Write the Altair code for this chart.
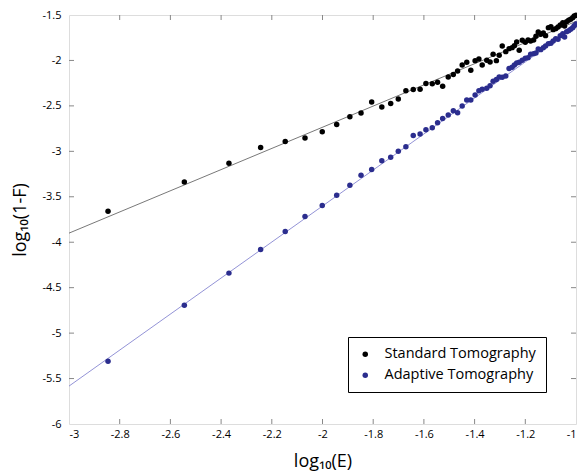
import altair as alt
import pandas as pd

# x positions (log10 E), shared by both series
log_e = [-2.846, -2.545, -2.369, -2.244, -2.147, -2.069, -2.001, -1.944, -1.892, -1.848,
         -1.806, -1.766, -1.731, -1.701, -1.671, -1.642, -1.615, -1.592, -1.567, -1.546,
         -1.526, -1.504, -1.484, -1.467, -1.449, -1.431, -1.415, -1.398, -1.383, -1.370,
         -1.352, -1.339, -1.327, -1.314, -1.303, -1.291, -1.277, -1.264, -1.252, -1.243,
         -1.234, -1.224, -1.212, -1.200, -1.189, -1.179, -1.167, -1.158, -1.149, -1.139,
         -1.129, -1.120, -1.109, -1.099, -1.090, -1.080, -1.071, -1.062, -1.052, -1.045,
         -1.037, -1.029, -1.021, -1.013, -1.007, -1.000]

standard = [-3.659, -3.337, -3.132, -2.957, -2.891, -2.854, -2.784, -2.704, -2.620, -2.579,
            -2.458, -2.513, -2.473, -2.425, -2.334, -2.320, -2.316, -2.254, -2.257, -2.239,
            -2.283, -2.181, -2.155, -2.115, -2.049, -2.020, -2.107, -2.002, -1.983, -2.049,
            -1.997, -2.016, -1.931, -2.002, -1.942, -1.840, -1.903, -1.870, -1.859, -1.837,
            -1.796, -1.888, -1.778, -1.800, -1.774, -1.785, -1.774, -1.734, -1.687, -1.712,
            -1.698, -1.727, -1.639, -1.628, -1.661, -1.650, -1.632, -1.610, -1.584, -1.621,
            -1.573, -1.558, -1.547, -1.529, -1.511, -1.503]

adaptive = [-5.309, -4.694, -4.340, -4.080, -3.882, -3.717, -3.597, -3.483, -3.374, -3.264,
            -3.201, -3.103, -3.066, -3.000, -2.949, -2.825, -2.810, -2.762, -2.740, -2.686,
            -2.638, -2.601, -2.554, -2.576, -2.502, -2.436, -2.436, -2.381, -2.334, -2.316,
            -2.305, -2.279, -2.228, -2.210, -2.181, -2.184, -2.170, -2.089, -2.074, -2.049,
            -2.027, -2.019, -1.997, -1.975, -1.969, -1.931, -1.925, -1.917, -1.873, -1.881,
            -1.859, -1.840, -1.815, -1.811, -1.785, -1.760, -1.767, -1.727, -1.705, -1.741,
            -1.683, -1.672, -1.657, -1.639, -1.617, -1.599]

# fitted lines (end points)
fit_x = [-3.0, -1.0]
fit_standard = [-3.90, -1.57]
fit_adaptive = [-5.583, -1.62]

series_names = ["Standard Tomography", "Adaptive Tomography"]
series_colors = ["#000000", "#2b2d8e"]

# tick values
xvals = [-3, -2.8, -2.6, -2.4, -2.2, -2, -1.8, -1.6, -1.4, -1.2, -1]
yvals = [-6, -5.5, -5, -4.5, -4, -3.5, -3, -2.5, -2, -1.5]

pts = pd.DataFrame({
    "x": log_e * 2,
    "y": standard + adaptive,
    "series": [series_names[0]] * len(standard) + [series_names[1]] * len(adaptive),
})
fit_s = pd.DataFrame({"x": fit_x, "y": fit_standard})
fit_a = pd.DataFrame({"x": fit_x, "y": fit_adaptive})
xt = pd.DataFrame({"x": xvals[1:-1]})
yt = pd.DataFrame({"y": yvals[1:-1]})

W, H = 507, 409
TK = 5
FONT = "Open Sans"
GRAY = "#888888"
xscale = alt.Scale(domain=[-3, -1], nice=False, zero=False)
yscale = alt.Scale(domain=[-6, -1.5], nice=False, zero=False)
LBL = "toString(datum.value)"

x_main = alt.Axis(orient="bottom", values=xvals, labelExpr=LBL, ticks=False, domain=False,
                  grid=False, labelFont=FONT, labelFontSize=11,
                  labelColor="#000000", labelPadding=4, title="log₁₀(E)", titleFont=FONT,
                  titleFontSize=18, titleFontWeight="normal", titlePadding=13,
                  titleColor="#000000")
y_main = alt.Axis(orient="left", values=yvals, labelExpr=LBL, ticks=False, domain=False,
                  grid=False, labelFont=FONT, labelFontSize=11,
                  labelColor="#000000", labelPadding=8, title="log₁₀(1-F)", titleFont=FONT,
                  titleFontSize=18, titleFontWeight="normal", titlePadding=12,
                  titleColor="#000000")

X = alt.X("x:Q", scale=xscale, axis=x_main)
Y = alt.Y("y:Q", scale=yscale, axis=y_main)

points = alt.Chart(pts).mark_circle(size=30, opacity=1).encode(
    x=X, y=Y,
    color=alt.Color("series:N", scale=alt.Scale(domain=series_names, range=series_colors),
                    legend=alt.Legend(title=None, orient="none", legendX=279, legendY=322,
                                      fillColor="#ffffff", strokeColor="#000000",
                                      padding=10, cornerRadius=0,
                                      labelFont=FONT, labelFontSize=14.5, labelColor="#000000",
                                      symbolType="circle", symbolSize=30, labelOffset=12,
                                      rowPadding=6, symbolStrokeWidth=0)),
)

line_s = alt.Chart(fit_s).mark_line(color="#555555", strokeWidth=0.8, clip=True).encode(x=X, y=Y)
line_a = alt.Chart(fit_a).mark_line(color="#7777cc", strokeWidth=0.8, clip=True).encode(x=X, y=Y)

# inward tick marks on all four sides
tick_bottom = alt.Chart(xt).mark_rule(color=GRAY, strokeWidth=1).encode(
    x=X, y=alt.value(H), y2=alt.value(H - TK))
tick_top = alt.Chart(xt).mark_rule(color=GRAY, strokeWidth=1).encode(
    x=X, y=alt.value(0), y2=alt.value(TK))
tick_left = alt.Chart(yt).mark_rule(color=GRAY, strokeWidth=1).encode(
    y=Y, x=alt.value(0), x2=alt.value(TK))
tick_right = alt.Chart(yt).mark_rule(color=GRAY, strokeWidth=1).encode(
    y=Y, x=alt.value(W), x2=alt.value(W - TK))

chart = alt.layer(tick_bottom, tick_top, tick_left, tick_right, line_s, line_a, points).properties(
    width=W, height=H,
    autosize=alt.AutoSizeParams(type="none"),
    padding={"left": 61, "top": 7, "right": 1, "bottom": 47},
).configure_view(stroke=GRAY, strokeWidth=1.2).configure(background="#ffffff")

chart.save("out.html", embed_options={"renderer": "svg", "actions": False})
